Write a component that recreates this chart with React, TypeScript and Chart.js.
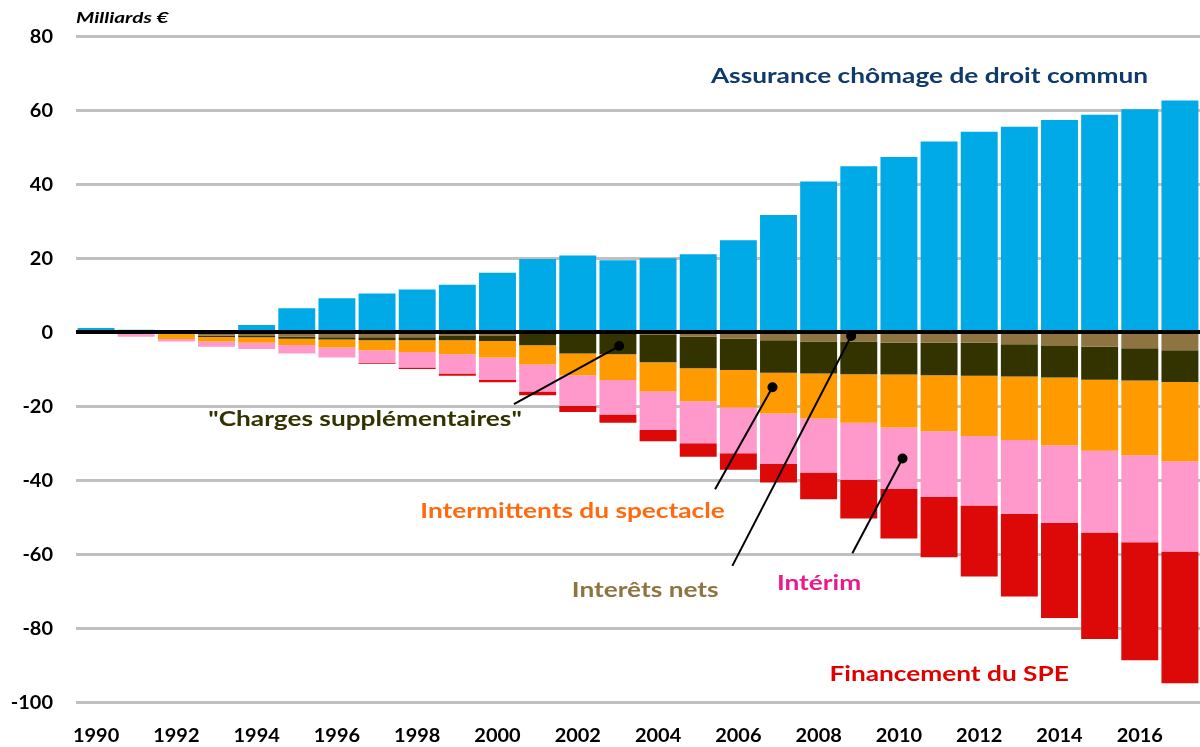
import React, { useEffect, useRef } from "react";
import { Chart, registerables } from "chart.js";

Chart.register(...registerables);

// ---------- DATA ----------
const years: string[] = [
  "1990", "1991", "1992", "1993", "1994", "1995", "1996", "1997", "1998", "1999",
  "2000", "2001", "2002", "2003", "2004", "2005", "2006", "2007", "2008", "2009",
  "2010", "2011", "2012", "2013", "2014", "2015", "2016", "2017",
];

const assuranceChomage: number[] = [
  1.1, 0.6, 0, 0, 1.9, 6.4, 9.1, 10.4, 11.5, 12.8,
  16.0, 19.7, 20.7, 19.4, 19.9, 21.0, 24.8, 31.6, 40.7, 44.8,
  47.3, 51.5, 54.1, 55.5, 57.3, 58.7, 60.2, 62.6,
];

const interetsNets: number[] = [
  0, 0, -0.3, -1.0, -1.1, -1.3, -1.4, -1.4, -1.4, -1.1,
  -1.1, -0.5, -0.4, -0.4, -0.8, -1.3, -1.8, -2.2, -2.6, -2.6,
  -2.9, -2.9, -2.9, -3.3, -3.8, -4.0, -4.4, -4.9,
];

const chargesSupplementaires: number[] = [
  0, 0, -0.2, -0.35, -0.3, -0.5, -0.6, -0.8, -0.8, -1.1,
  -1.3, -3.1, -5.4, -5.6, -7.4, -8.5, -8.5, -8.8, -8.6, -8.8,
  -8.6, -8.8, -8.9, -8.7, -8.5, -8.9, -8.7, -8.6,
];

const intermittents: number[] = [
  0, -0.3, -1.4, -1.25, -1.5, -1.7, -2.2, -2.7, -3.2, -3.8,
  -4.5, -5.2, -5.9, -7.0, -7.9, -8.9, -10.1, -11.0, -12.2, -13.1,
  -14.3, -15.1, -16.3, -17.2, -18.3, -19.2, -20.2, -21.4,
];

const interim: number[] = [
  0, -1.0, -0.7, -1.4, -1.7, -2.3, -2.7, -3.4, -4.2, -5.2,
  -6.1, -7.3, -8.3, -9.3, -10.4, -11.4, -12.4, -13.7, -14.6, -15.5,
  -16.6, -17.8, -18.8, -20.0, -21.0, -22.1, -23.5, -24.4,
];

const financementSPE: number[] = [
  0, 0, 0, 0, 0, 0, 0, -0.3, -0.4, -0.6,
  -0.6, -1.0, -1.6, -2.2, -3.0, -3.6, -4.4, -5.0, -7.2, -10.4,
  -13.4, -16.3, -19.2, -22.3, -25.7, -28.8, -31.9, -35.6,
];

const yTicks: number[] = [-100, -80, -60, -40, -20, 0, 20, 40, 60, 80];

const unitLabel = "Milliards €";

// ---------- ANNOTATIONS (text labels and leader lines, placed in data units) ----------
// x: fractional year, y: value in Md€
const textLabels = [
  { text: "Assurance chômage de droit commun", x: 2010.76, y: 69.2, color: "#0E3A6C" },
  { text: "\"Charges supplémentaires\"", x: 1996.7, y: -23.5, color: "#333300" },
  { text: "Intermittents du spectacle", x: 2001.87, y: -48.4, color: "#FF6A10" },
  { text: "Interêts nets", x: 2003.68, y: -69.7, color: "#8E7440" },
  { text: "Intérim", x: 2008.01, y: -67.8, color: "#EA1A8C" },
  { text: "Financement du SPE", x: 2011.25, y: -92.4, color: "#E00000" },
];

const leaders = [
  { x1: 2000.41, y1: -19.5, x2: 2003.03, y2: -3.8 },
  { x1: 2005.42, y1: -42.5, x2: 2006.85, y2: -14.95 },
  { x1: 2005.85, y1: -63.2, x2: 2008.81, y2: -1.1 },
  { x1: 2008.84, y1: -59.8, x2: 2010.09, y2: -34.2 },
];

const FONT = "Lato, 'Open Sans', sans-serif";

function stretchedText(
  ctx: CanvasRenderingContext2D,
  text: string,
  x: number,
  y: number,
  sx: number,
  align: CanvasTextAlign,
  baseline: CanvasTextBaseline
) {
  ctx.save();
  ctx.translate(x, y);
  ctx.scale(sx, 1);
  ctx.textAlign = align;
  ctx.textBaseline = baseline;
  ctx.fillText(text, 0, 0);
  ctx.restore();
}

const annotationPlugin = {
  id: "annotations",
  afterDatasetsDraw(chart: any) {
    const { ctx, chartArea, scales } = chart;
    const xs = scales.x;
    const ys = scales.y;
    const first = Number(years[0]);
    const px = (yr: number) => xs.getPixelForValue(yr - first);
    const py = (v: number) => ys.getPixelForValue(v);
    ctx.save();
    // zero line
    ctx.strokeStyle = "#000000";
    ctx.lineWidth = 4;
    ctx.beginPath();
    ctx.moveTo(chartArea.left, py(0));
    ctx.lineTo(chartArea.right, py(0));
    ctx.stroke();
    // leader lines
    ctx.lineWidth = 2;
    for (const l of leaders) {
      ctx.beginPath();
      ctx.moveTo(px(l.x1), py(l.y1));
      ctx.lineTo(px(l.x2), py(l.y2));
      ctx.stroke();
      ctx.beginPath();
      ctx.fillStyle = "#000000";
      ctx.arc(px(l.x2), py(l.y2), 5, 0, Math.PI * 2);
      ctx.fill();
    }
    // annotation texts
    ctx.font = `bold 21px ${FONT}`;
    for (const t of textLabels) {
      ctx.fillStyle = t.color;
      stretchedText(ctx, t.text, px(t.x), py(t.y), 1.25, "center", "middle");
    }
    // tick labels
    ctx.fillStyle = "#000000";
    ctx.font = `bold 19px ${FONT}`;
    for (const v of yTicks) {
      stretchedText(ctx, String(v), chartArea.left - 23, py(v) + 6.8, 1.05, "right", "alphabetic");
    }
    years.forEach((yr, i) => {
      if (i % 2 !== 0) return;
      stretchedText(ctx, yr, xs.getPixelForValue(i), chartArea.bottom + 40, 1.05, "center", "alphabetic");
    });
    // unit label
    ctx.font = `italic bold 16px ${FONT}`;
    stretchedText(ctx, unitLabel, chartArea.left, chartArea.top - 12.7, 1.3, "left", "alphabetic");
    ctx.restore();
  },
};

export default function App() {
  const canvasRef = useRef<HTMLCanvasElement | null>(null);

  useEffect(() => {
    if (!canvasRef.current) return;
    const common = { barPercentage: 0.92, categoryPercentage: 1, borderWidth: 0, stack: "s" };
    const chart = new Chart(canvasRef.current, {
      type: "bar",
      data: {
        labels: years,
        datasets: [
          { label: "Assurance chômage de droit commun", data: assuranceChomage, backgroundColor: "#00AAE6", ...common },
          { label: "Interêts nets", data: interetsNets, backgroundColor: "#8E7440", ...common },
          { label: "Charges supplémentaires", data: chargesSupplementaires, backgroundColor: "#333300", ...common },
          { label: "Intermittents du spectacle", data: intermittents, backgroundColor: "#FF9A00", ...common },
          { label: "Intérim", data: interim, backgroundColor: "#FF99CC", ...common },
          { label: "Financement du SPE", data: financementSPE, backgroundColor: "#DD0808", ...common },
        ],
      },
      options: {
        animation: false,
        responsive: true,
        maintainAspectRatio: false,
        layout: { padding: { top: 36, left: 0, right: 0, bottom: 0 } },
        plugins: { legend: { display: false }, tooltip: { enabled: false } },
        scales: {
          x: {
            stacked: true,
            offset: true,
            grid: { display: false, drawTicks: false },
            border: { display: false },
            ticks: { display: false, autoSkip: false, maxRotation: 0, minRotation: 0 },
            afterFit: (s: any) => {
              s.height = 45;
            },
          },
          y: {
            stacked: true,
            min: yTicks[0],
            max: yTicks[yTicks.length - 1],
            afterBuildTicks: (s: any) => {
              s.ticks = yTicks.map((v) => ({ value: v }));
            },
            grid: { color: "#C0C0C0", lineWidth: 3, drawTicks: false },
            border: { display: false },
            ticks: { display: false },
            afterFit: (s: any) => {
              s.width = 76;
            },
          },
        },
      },
      plugins: [annotationPlugin],
    });
    return () => chart.destroy();
  }, []);

  return (
    <div style={{ position: "fixed", left: 0, top: 0, width: 1200, height: 747, background: "#ffffff" }}>
      <canvas ref={canvasRef} />
    </div>
  );
}
